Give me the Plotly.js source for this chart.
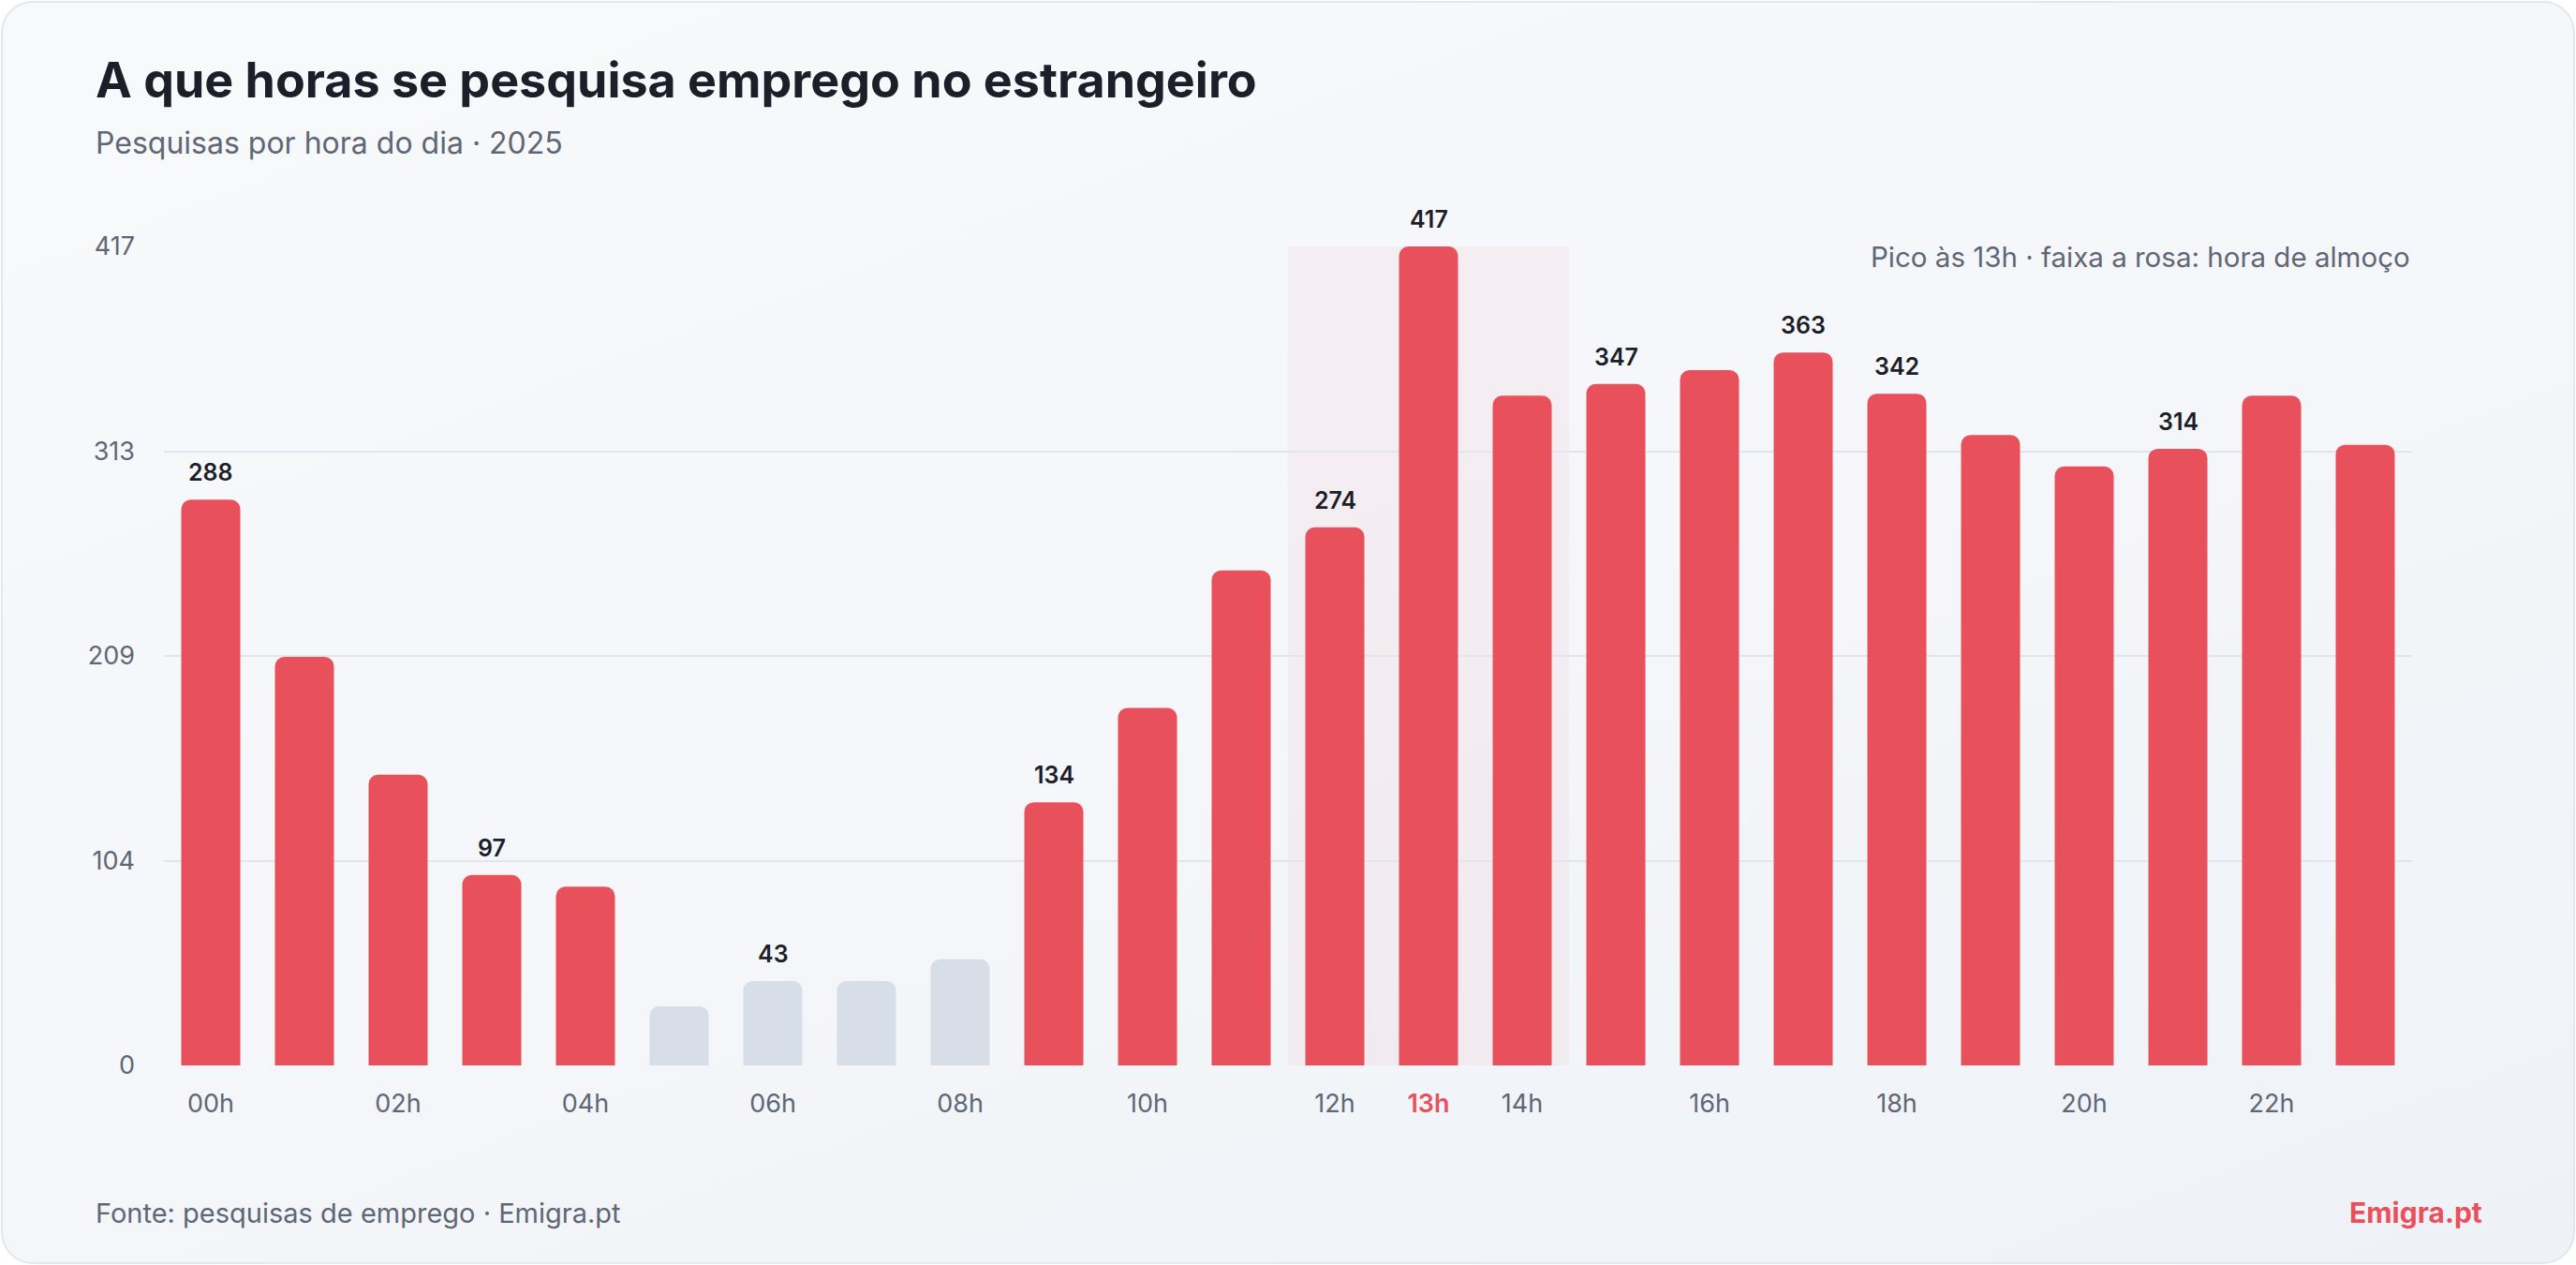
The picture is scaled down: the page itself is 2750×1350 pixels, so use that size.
<!DOCTYPE html>
<html>
<head>
<meta charset="utf-8">
<script src="https://cdn.plot.ly/plotly-3.0.1.min.js"></script>
<style>
  html, body { margin:0; padding:0; background:#ffffff; }
  #card {
    position:absolute; left:1px; top:1px; width:2744px; height:1344px;
    border:2px solid #e2e7ee; border-radius:34px;
    background: linear-gradient(160deg, #f8f9fb 0%, #f4f6f9 55%, #eef2f7 100%);
    overflow:hidden;
  }
  #chart { position:absolute; left:0; top:0; width:2750px; height:1350px; }
</style>
</head>
<body>
<div id="card"></div>
<div id="chart"></div>
<script>
// ---- data ----
const hours = ["00h","01h","02h","03h","04h","05h","06h","07h","08h","09h","10h","11h",
               "12h","13h","14h","15h","16h","17h","18h","19h","20h","21h","22h","23h"];
const searches = [288, 208, 148, 97, 91, 30, 43, 43, 54, 134, 182, 252,
                  274, 417, 341, 347, 354, 363, 342, 321, 305, 314, 341, 316];
const quietHours = ["05h","06h","07h","08h"];
const labelledHours = ["00h","03h","06h","09h","12h","13h","15h","17h","18h","21h"];
const tickHours = ["00h","02h","04h","06h","08h","10h","12h","13h","14h","16h","18h","20h","22h"];
const peakHour = "13h";
const lunchHours = ["12h","13h","14h"];
const yTickVals = [0, 104.25, 208.5, 312.75, 417];
const yTickText = ["0","104","209","313","417"];
const title = "A que horas se pesquisa emprego no estrangeiro";
const subtitle = "Pesquisas por hora do dia · 2025";
const note = "Pico às 13h · faixa a rosa: hora de almoço";
const source = "Fonte: pesquisas de emprego · Emigra.pt";
const brand = "Emigra.pt";

// ---- style ----
const RED = "#e8515c", GRAY = "#d7dee8", TEXT = "#1c1f2a", MUTED = "#5f6776";
const W = 2750, H = 1350, ML = 175, MR = 175, MT = 263, MB = 213;
const PW = W - ML - MR, PH = H - MT - MB;
const px = x => (x - ML) / PW;
const py = y => (H - MB - y) / PH;
const FONT = "Inter, 'Noto Sans', sans-serif";

const colors = hours.map(h => quietHours.includes(h) ? GRAY : RED);
const tickText = tickHours.map(h => h === peakHour
  ? `<span style="color:${RED};font-weight:600">${h}</span>` : h);

const barLabels = hours.map((h, i) => labelledHours.includes(h) ? {
  x: h, y: searches[i], xref: "x", yref: "y", text: String(searches[i]),
  showarrow: false, yanchor: "bottom", yshift: 12,
  font: {family: FONT, size: 25, color: TEXT, weight: 600}
} : null).filter(Boolean);

const lunchIdx = lunchHours.map(h => hours.indexOf(h));

const trace = {
  type: "bar", x: hours, y: searches,
  marker: {color: colors, cornerradius: 10, line: {width: 0}},
  hoverinfo: "x+y", cliponaxis: false
};

const layout = {
  width: W, height: H,
  margin: {l: ML, r: MR, t: MT, b: MB},
  paper_bgcolor: "rgba(0,0,0,0)", plot_bgcolor: "rgba(0,0,0,0)",
  bargap: 0.37, showlegend: false,
  font: {family: FONT, color: MUTED},
  xaxis: {
    type: "category", tickmode: "array", tickvals: tickHours, ticktext: tickText,
    showgrid: false, zeroline: false, showline: false, ticks: "",
    tickfont: {family: FONT, size: 27, color: MUTED}, ticklabelstandoff: 22,
    range: [-0.5, hours.length - 0.5]
  },
  yaxis: {
    range: [0, 417], tickmode: "array", tickvals: yTickVals, ticktext: yTickText,
    showgrid: true, gridcolor: "#e1e6ee", gridwidth: 2, zeroline: false, showline: false,
    ticks: "", tickfont: {family: FONT, size: 27, color: MUTED}, ticklabelstandoff: 30
  },
  shapes: [{
    type: "rect", xref: "x", yref: "y", layer: "below",
    x0: Math.min(...lunchIdx) - 0.5, x1: Math.max(...lunchIdx) + 0.5,
    y0: 0, y1: Math.max(...searches),
    fillcolor: "rgba(232,81,92,0.055)", line: {width: 0}
  }],
  annotations: [
    {xref: "paper", yref: "paper", x: px(100), y: py(52), xanchor: "left", yanchor: "top",
     text: `<b>${title}</b>`, showarrow: false,
     font: {family: FONT, size: 52, color: TEXT}},
    {xref: "paper", yref: "paper", x: px(100), y: py(131), xanchor: "left", yanchor: "top",
     text: subtitle, showarrow: false, font: {family: FONT, size: 32, color: MUTED}},
    {xref: "paper", yref: "paper", x: 1, y: py(254), xanchor: "right", yanchor: "top",
     text: note, showarrow: false, font: {family: FONT, size: 29.5, color: MUTED}},
    {xref: "paper", yref: "paper", x: px(100), y: py(1275), xanchor: "left", yanchor: "top",
     text: source, showarrow: false, font: {family: FONT, size: 29, color: MUTED}},
    {xref: "paper", yref: "paper", x: px(2652), y: py(1274), xanchor: "right", yanchor: "top",
     text: `<b>${brand}</b>`, showarrow: false, font: {family: FONT, size: 30, color: RED}},
    ...barLabels
  ]
};

Plotly.newPlot("chart", [trace], layout, {displayModeBar: false, responsive: false});
</script>
</body>
</html>
